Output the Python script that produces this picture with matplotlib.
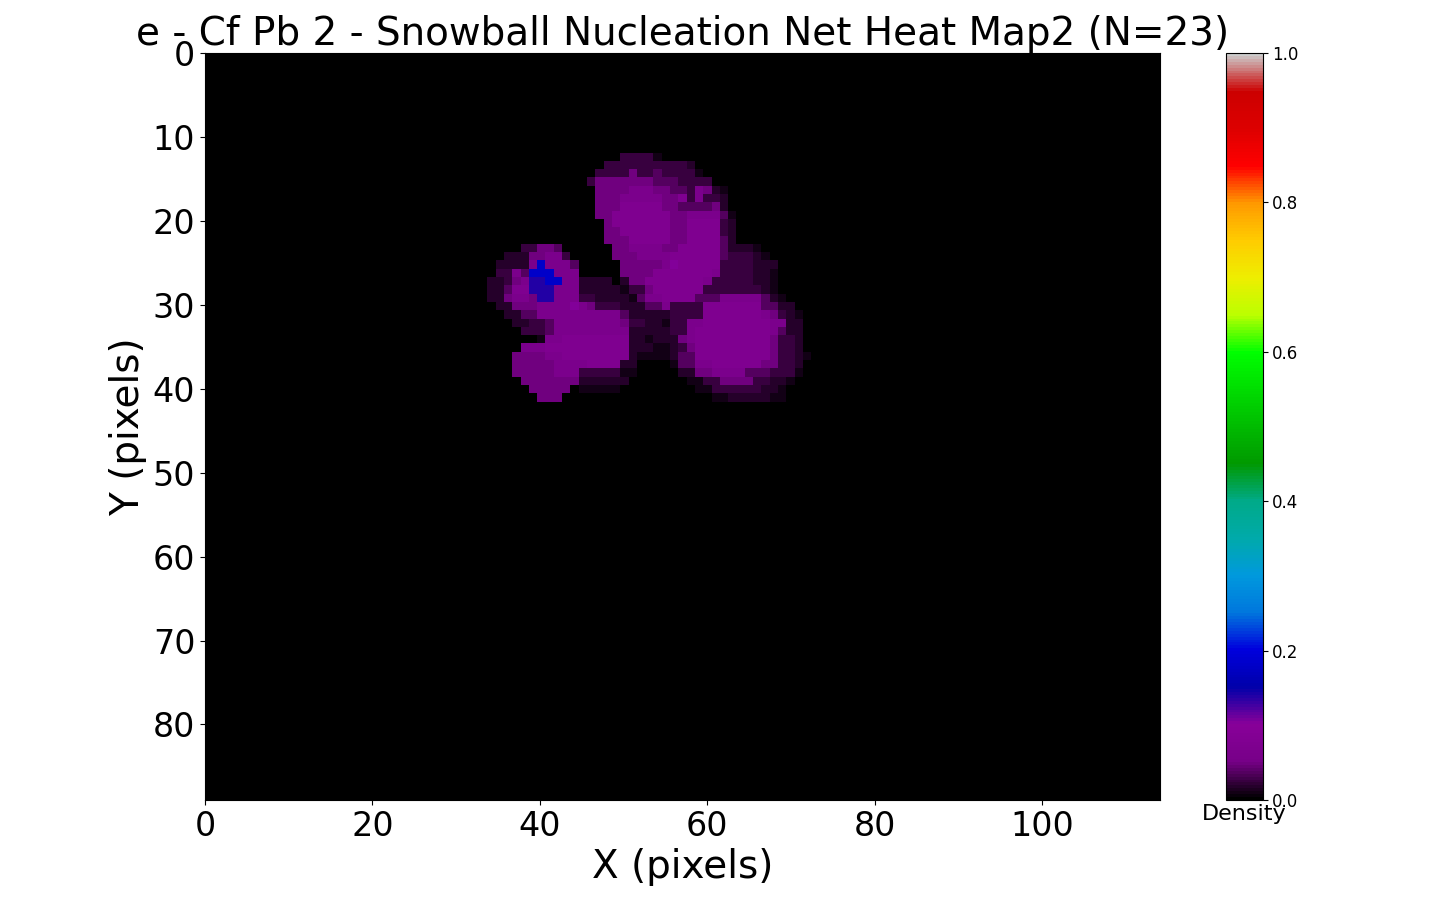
import numpy as np
import matplotlib
matplotlib.use('Agg')
import matplotlib.pyplot as plt

n_rows = 90
n_cols = 115

# density, one step per digit of the segments below
levels = {'0': 0.0, '1': 0.01, '2': 0.018, '3': 0.027, '4': 0.036, '5': 0.05,
          '6': 0.063, '7': 0.078, '8': 0.105, '9': 0.14, 'a': 0.18}

# (row, first column, digits)
segments = [
    (12, 50, "33331"),
    (13, 48, "33333333332"),
    (14, 47, "333353343333" + "1"),
    (15, 46, "3" + "5555555" + "444" + "3333"),
    (16, 47, "5555" + "666" + "55" + "44" + "3" + "6" + "5" + "2" + "1"),
    (17, 47, "555" + "66666" + "55" + "7" + "3" + "6" + "33" + "2"),
    (18, 47, "555" + "77777" + "55" + "4" + "444" + "5" + "2"),
    (19, 47, "55" + "7777777" + "55" + "6666" + "4" + "1"),
    (20, 48, "5" + "7777777" + "55" + "7777" + "3" + "2"),
    (21, 48, "55" + "777777" + "55" + "7777" + "3" + "2"),
    (22, 48, "555" + "77777" + "55" + "7777" + "4" + "2"),
    (23, 38, "33554"),
    (23, 49, "55" + "6666" + "55" + "77777" + "4" + "222" + "1"),
    (24, 36, "22255663"),
    (24, 49, "555" + "6666" + "777777" + "4" + "3332" + "1"),
    (25, 35, "22226a6664"),
    (25, 50, "55555" + "6" + "8" + "77777" + "3333222"),
    (26, 35, "3364aaa666"),
    (26, 50, "5555" + "7777777" + "6" + "3333" + "221"),
    (27, 34, "223" + "5" + "6" + "99" + "aa" + "66" + "2222" + "0" + "2" + "55" + "7777777" + "6" + "33333" + "22" + "1"),
    (28, 34, "22" + "4" + "77" + "999" + "666" + "22222" + "1" + "33" + "5" + "777777" + "3333333" + "2" + "1"),
    (29, 34, "22" + "5" + "66" + "5" + "99" + "666" + "33" + "2222" + "1" + "4" + "66" + "7777" + "444" + "66666" + "4" + "2" + "1"),
    (30, 35, "22" + "555" + "6666" + "8" + "65" + "333" + "22" + "2" + "44" + "6" + "3333" + "7777777" + "44" + "22"),
    (31, 36, "22" + "44" + "666" + "6666666" + "4" + "22" + "222" + "3333" + "77777776" + "5" + "3" + "2" + "1"),
    (32, 37, "22" + "33" + "4" + "66666666" + "5" + "33" + "22" + "1" + "33" + "66" + "77777777" + "6" + "6" + "22"),
    (33, 38, "333" + "4" + "666666666" + "22" + "222" + "33" + "6" + "777777777" + "6" + "4" + "22"),
    (34, 40, "1" + "6677777777" + "22" + "1" + "222" + "5" + "6" + "777777777" + "5" + "33" + "2"),
    (35, 38, "666" + "7777777777" + "22" + "211" + "2" + "3" + "5" + "777777777" + "5" + "33" + "2"),
    (36, 37, "5555" + "6677777777" + "2" + "1" + "111" + "2" + "44" + "777777777" + "5" + "33" + "2" + "1"),
    (37, 37, "55555" + "66667777" + "22" + "0000" + "1" + "44" + "66" + "777777" + "55" + "33" + "2"),
    (38, 37, "55555" + "666" + "33333" + "11"),
    (38, 57, "22" + "55" + "6666" + "444" + "333" + "1"),
    (39, 38, "5555555" + "222222"),
    (39, 58, "11" + "33" + "5555" + "33" + "22" + "1"),
    (40, 39, "55555" + "0" + "11111"),
    (40, 59, "11" + "333333" + "22" + "1"),
    (41, 40, "555"),
    (41, 61, "11" + "22222" + "11"),
]

heat = np.zeros((n_rows, n_cols))
for row, col, digits in segments:
    for i, d in enumerate(digits):
        heat[row, col + i] = levels[d]

fig = plt.figure(figsize=(14.37, 9), dpi=100)
W, H = 1437.0, 900.0
ax = fig.add_axes([205 / W, 1 - 800 / H, 954.5 / W, 747 / H])
im = ax.imshow(heat, cmap='nipy_spectral', vmin=0, vmax=1, aspect='auto',
               interpolation='nearest', extent=[0, 114, 89, 0])
ax.set_title('e - Cf Pb 2 - Snowball Nucleation Net Heat Map2 (N=23)', fontsize=28, pad=3)
ax.set_xlabel('X (pixels)', fontsize=28)
ax.set_ylabel('Y (pixels)', fontsize=28)
ax.tick_params(labelsize=24)

cax = fig.add_axes([1225.5 / W, 1 - 800 / H, 37 / W, 747 / H])
cb = fig.colorbar(im, cax=cax)
cb.ax.tick_params(labelsize=12)
cb.ax.set_xlabel('Density', fontsize=16, labelpad=3)

fig.savefig('out.png', dpi=100)
